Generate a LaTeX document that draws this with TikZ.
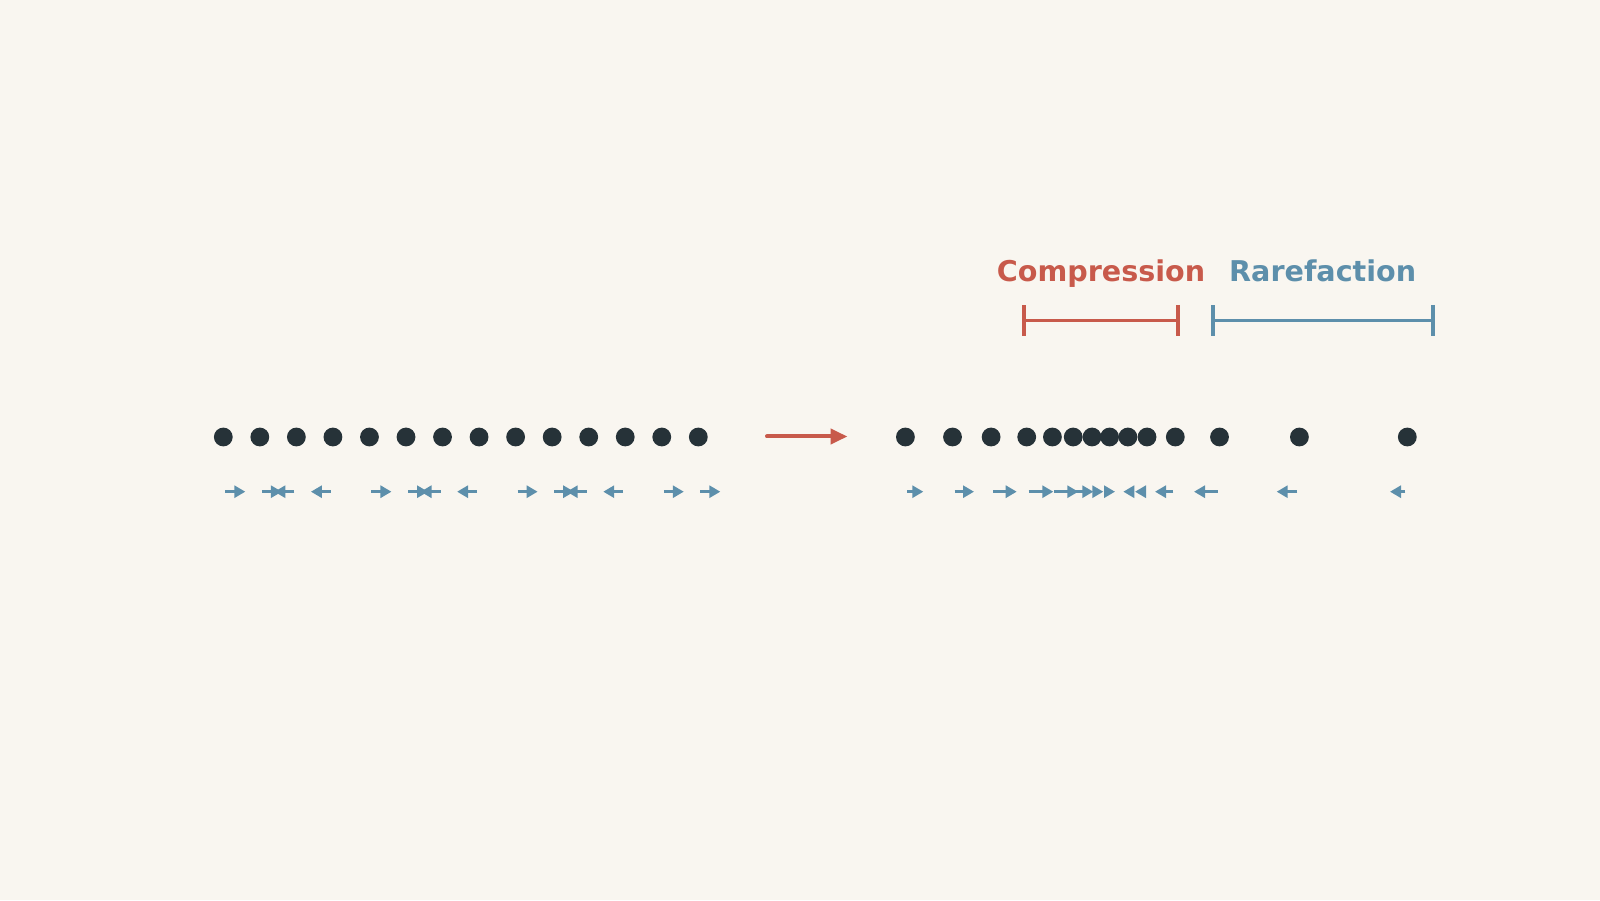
\documentclass[tikz,border=0pt]{standalone}
\usepackage{fontspec}
\setmainfont{DejaVu Sans}
\usetikzlibrary{arrows.meta,positioning}
\definecolor{bg}{HTML}{F9F6F0}
\definecolor{ink}{HTML}{263238}
\definecolor{comp}{HTML}{C85A4B}
\definecolor{rare}{HTML}{5D8FAB}

\begin{document}
\begin{tikzpicture}[x=1pt,y=1pt,
    dot/.style={circle,fill=ink,inner sep=0pt,outer sep=0pt,minimum size=18.8pt},
    disp/.style={-{Triangle[length=11pt,width=12pt]},draw=rare,line width=3pt},
    wave/.style={-{Triangle[length=17pt,width=15pt]},draw=comp,line width=4pt,line cap=round},
    span/.style={{Bar[width=31pt]}-{Bar[width=31pt]},line width=3.8pt},
    lbl/.style={font=\fontsize{28.6}{34}\selectfont\bfseries,inner sep=0pt,anchor=base}]

  \fill[bg] (0,0) rectangle (1600,900);

  % before: evenly spaced
  \node[dot] (l1) at (223.3,463) {};
  \foreach \i [count=\j from 2] in {1,...,13}
    \node[dot] (l\j) [right=17.74pt of l\i] {};
  \foreach \i/\d in {1/22,2/22,3/-22,4/-22,5/22,6/22,7/-22,8/-22,
                     9/22,10/22,11/-22,12/-22,13/22,14/22}
  {
    \path (l\i) ++({2*sign(\d)},-54.7) coordinate (la\i)
                ++({\d-2*sign(\d)},0) coordinate (lb\i);
    \draw[disp] (la\i) -- (lb\i);
  }

  % propagation
  \coordinate (go) at (767,463.5);
  \coordinate (to) at (847.5,463.5);
  \draw[wave] (go) -- (to);

  % after: displaced
  \foreach \i/\x/\d in {1/905.4/17.9,2/952.5/21.5,3/991.1/25.6,4/1026.7/26.6,
                        5/1052.4/25.9,6/1073.2/20.1,7/1092/11.3,8/1109.6/5.4,
                        9/1127.9/-4.6,10/1147/-12,11/1175.3/-20.3,
                        12/1219.5/-25.5,13/1299.4/-22.7,14/1407.3/-17.3}
  {
    \node[dot] (r\i) at (\x,463) {};
    \path (r\i) ++({2*sign(\d)},-54.7) coordinate (ra\i)
                ++({\d-2*sign(\d)},0) coordinate (rb\i);
    \draw[disp] (ra\i) -- (rb\i);
  }

  % regions
  \coordinate (c0) at (1022,579.5);
  \coordinate (c1) at (1180,579.5);
  \coordinate (f0) at (1210.7,579.5);
  \coordinate (f1) at (1434.7,579.5);
  \draw[span,comp] (c0) -- (c1);
  \draw[span,rare] (f0) -- (f1);
  \node[lbl,text=comp] (ctext) at (1101,618) {Compression};
  \node[lbl,text=rare] (ftext) at (1322.7,618) {Rarefaction};
\end{tikzpicture}
\end{document}
